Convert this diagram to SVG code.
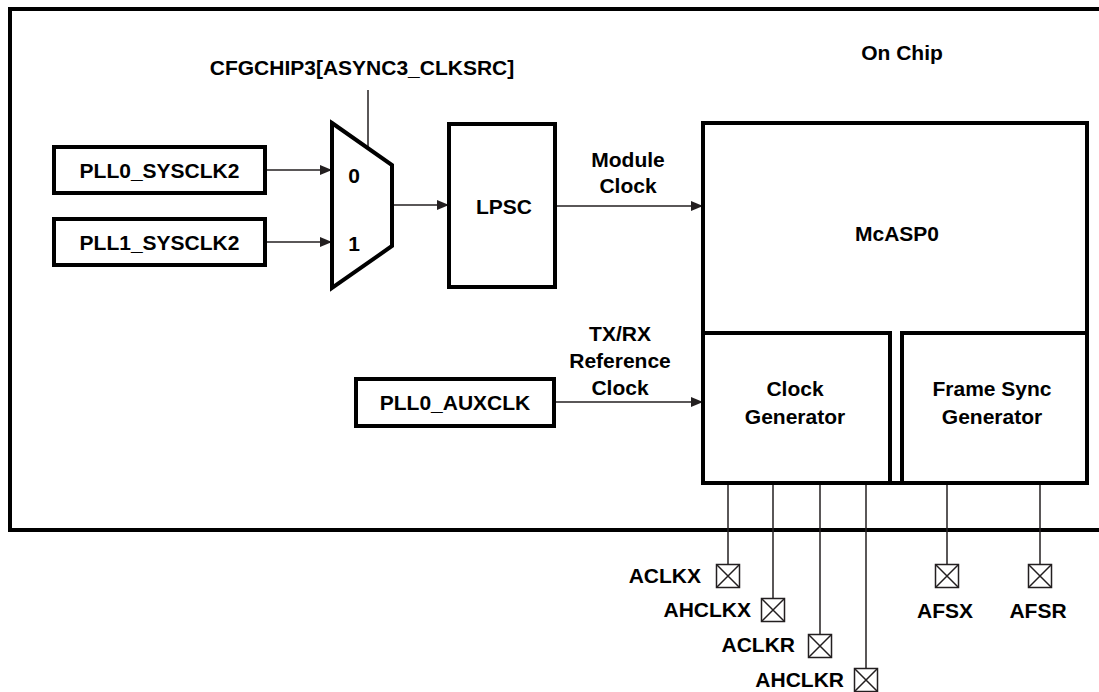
<svg xmlns="http://www.w3.org/2000/svg" width="1099" height="692" viewBox="0 0 1099 692">
<defs>
<marker id="arr" viewBox="0 0 12 10" refX="12" refY="5" markerWidth="12" markerHeight="10" markerUnits="userSpaceOnUse" orient="auto">
<path d="M0,0 L12,5 L0,10 Z" fill="#231f20"/>
</marker>
</defs>
<style>
.box{fill:#fff;stroke:#000;stroke-width:4}
.thin{fill:none;stroke:#231f20;stroke-width:1.5}
.pin{fill:#fff;stroke:#231f20;stroke-width:1.5}
text{font-family:"Liberation Sans",Arial,sans-serif;font-weight:bold;font-size:21px;fill:#000}
.c{text-anchor:middle}
.r{text-anchor:end}
</style>
<rect width="1099" height="692" fill="#fff"/>
<g id="chip-boundary">
<path d="M1110,9 H10 V530 H1110" fill="none" stroke="#000" stroke-width="4"/>
<text class="c" x="902" y="60">On Chip</text>
</g>
<g id="connectors">
<line class="thin" x1="265" y1="170" x2="332" y2="170" marker-end="url(#arr)"/>
<line class="thin" x1="265" y1="242" x2="332" y2="242" marker-end="url(#arr)"/>
<line class="thin" x1="368" y1="90" x2="368" y2="148"/>
<line class="thin" x1="392" y1="205" x2="449" y2="205" marker-end="url(#arr)"/>
<line class="thin" x1="555" y1="206" x2="703" y2="206" marker-end="url(#arr)"/>
<line class="thin" x1="554" y1="402" x2="703" y2="402" marker-end="url(#arr)"/>
<line class="thin" x1="728" y1="483" x2="728" y2="564"/>
<line class="thin" x1="773" y1="483" x2="773" y2="598"/>
<line class="thin" x1="820" y1="483" x2="820" y2="634"/>
<line class="thin" x1="866" y1="483" x2="866" y2="668"/>
<line class="thin" x1="947" y1="483" x2="947" y2="564"/>
<line class="thin" x1="1040" y1="483" x2="1040" y2="564"/>
</g>
<g id="cfgchip3">
<text class="c" x="362" y="75">CFGCHIP3[ASYNC3_CLKSRC]</text>
</g>
<g id="pll0-sysclk2">
<rect class="box" x="54" y="147" width="211" height="46"/>
<text class="c" x="159.5" y="177.5">PLL0_SYSCLK2</text>
</g>
<g id="pll1-sysclk2">
<rect class="box" x="54" y="219" width="211" height="46"/>
<text class="c" x="159.5" y="249.5">PLL1_SYSCLK2</text>
</g>
<g id="mux">
<polygon class="box" points="332,123 392,165 392,246 332,288"/>
<text class="c" x="354" y="183">0</text>
<text class="c" x="354" y="251">1</text>
</g>
<g id="lpsc">
<rect class="box" x="449" y="124" width="106" height="163"/>
<text class="c" x="504" y="213.5">LPSC</text>
</g>
<g id="module-clock-label">
<text class="c" x="628" y="166.5">Module</text>
<text class="c" x="628" y="192.5">Clock</text>
</g>
<g id="pll0-auxclk">
<rect class="box" x="356" y="379" width="198" height="47"/>
<text class="c" x="455" y="410">PLL0_AUXCLK</text>
</g>
<g id="ref-clock-label">
<text class="c" x="620" y="340.5">TX/RX</text>
<text class="c" x="620" y="367.5">Reference</text>
<text class="c" x="620" y="394.5">Clock</text>
</g>
<g id="mcasp0">
<rect class="box" x="703" y="123" width="384" height="360"/>
<text class="c" x="897" y="240.5">McASP0</text>
</g>
<g id="clock-generator">
<rect class="box" x="703" y="333" width="187" height="150"/>
<text class="c" x="795" y="395.5">Clock</text>
<text class="c" x="795" y="423.5">Generator</text>
</g>
<g id="frame-sync-generator">
<rect class="box" x="902" y="333" width="185" height="150"/>
<text class="c" x="992" y="395.5">Frame Sync</text>
<text class="c" x="992" y="423.5">Generator</text>
</g>
<g id="pin-aclkx">
<rect class="pin" x="716.5" y="564.5" width="23" height="23"/>
<path class="thin" d="M716.5,564.5 L739.5,587.5 M739.5,564.5 L716.5,587.5"/>
<text class="r" x="701" y="583">ACLKX</text>
</g>
<g id="pin-ahclkx">
<rect class="pin" x="761.5" y="598.5" width="23" height="23"/>
<path class="thin" d="M761.5,598.5 L784.5,621.5 M784.5,598.5 L761.5,621.5"/>
<text class="r" x="751" y="617">AHCLKX</text>
</g>
<g id="pin-aclkr">
<rect class="pin" x="808.5" y="634.5" width="23" height="23"/>
<path class="thin" d="M808.5,634.5 L831.5,657.5 M831.5,634.5 L808.5,657.5"/>
<text class="r" x="795" y="652">ACLKR</text>
</g>
<g id="pin-ahclkr">
<rect class="pin" x="854.5" y="668.5" width="23" height="23"/>
<path class="thin" d="M854.5,668.5 L877.5,691.5 M877.5,668.5 L854.5,691.5"/>
<text class="r" x="844" y="687">AHCLKR</text>
</g>
<g id="pin-afsx">
<rect class="pin" x="935.5" y="564.5" width="23" height="23"/>
<path class="thin" d="M935.5,564.5 L958.5,587.5 M958.5,564.5 L935.5,587.5"/>
<text class="c" x="945" y="617.5">AFSX</text>
</g>
<g id="pin-afsr">
<rect class="pin" x="1028.5" y="564.5" width="23" height="23"/>
<path class="thin" d="M1028.5,564.5 L1051.5,587.5 M1051.5,564.5 L1028.5,587.5"/>
<text class="c" x="1038" y="617.5">AFSR</text>
</g>
</svg>
